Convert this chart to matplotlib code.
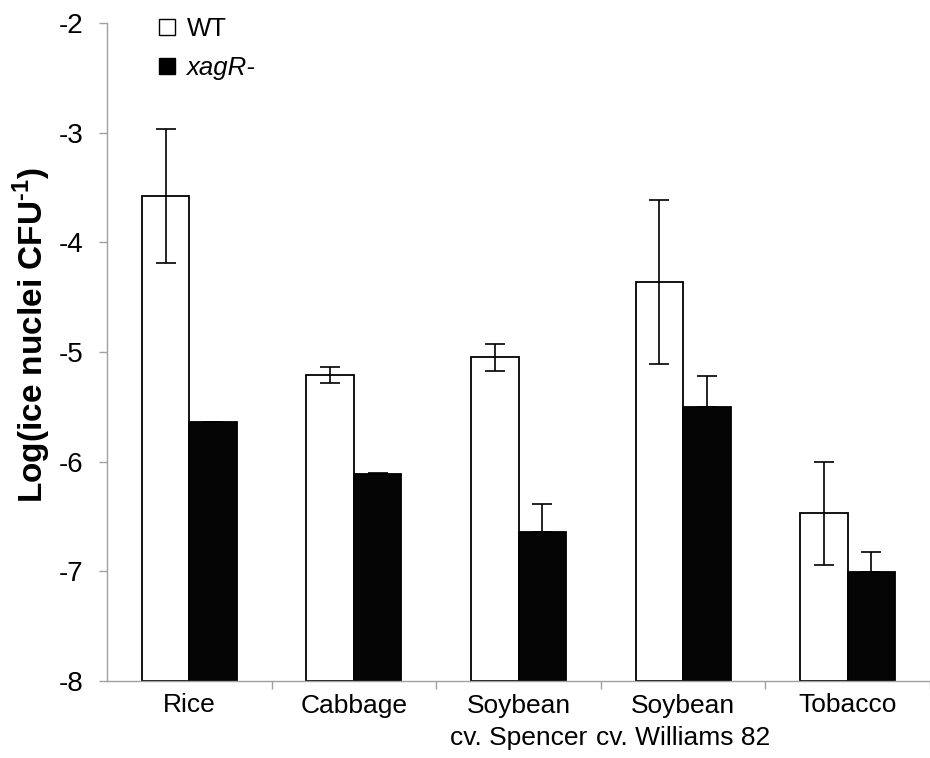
import matplotlib
matplotlib.use("Agg")
import matplotlib.pyplot as plt
import numpy as np
from matplotlib.lines import Line2D

categories = ["Rice", "Cabbage", "Soybean\ncv. Spencer", "Soybean\ncv. Williams 82", "Tobacco"]
wt_values = [-3.58, -5.21, -5.05, -4.36, -6.47]
wt_errors = [0.61, 0.07, 0.12, 0.75, 0.47]
xag_values = [-5.64, -6.11, -6.64, -5.50, -7.01]
xag_errors = [0.00, 0.01, 0.25, 0.28, 0.19]
yticks = [-8, -7, -6, -5, -4, -3, -2]

plt.rcParams['font.family'] = ['Liberation Sans', 'DejaVu Sans']
plt.rcParams['mathtext.fontset'] = 'custom'
plt.rcParams['mathtext.rm'] = 'Liberation Sans:bold'
plt.rcParams['mathtext.bf'] = 'Liberation Sans:bold'

fig = plt.figure(figsize=(9.30, 7.58), dpi=100)
ax = fig.add_axes([107/930, 1-681/758, 1-107/930, (681-23)/758])

x = np.arange(len(categories))
w = 0.288
base = -8
ax.bar(x - w/2, np.array(wt_values) - base, bottom=base, width=w, color="white",
       edgecolor="black", linewidth=1.3, zorder=2)
ax.bar(x + w/2, np.array(xag_values) - base, bottom=base, width=w, color="#050505",
       edgecolor="black", linewidth=1.3, zorder=2)
ax.errorbar(x - w/2, wt_values, yerr=wt_errors, fmt="none", ecolor="black",
            elinewidth=1.2, capsize=7, capthick=1.2, zorder=3)
ax.errorbar(x + w/2, xag_values, yerr=[np.zeros(len(xag_errors)), xag_errors], fmt="none",
            ecolor="black", elinewidth=1.2, capsize=7, capthick=1.2, zorder=3)

ax.set_ylim(-8, -2)
ax.set_xlim(-0.5, (930-107)/166.5 - 0.5)
ax.set_yticks(yticks)
ax.set_yticklabels([str(t) for t in yticks], fontsize=20)
ax.set_xticks(x)
ax.set_xticklabels(categories, fontsize=19, linespacing=1.45)
ax.set_xticks(np.arange(len(categories)) + 0.5, minor=True)
ax.tick_params(axis="x", which="major", length=0, pad=9)
ax.tick_params(axis="x", which="minor", length=6, color="#a0a0a0", width=1)
ax.tick_params(axis="y", length=6, color="#a0a0a0", width=1, pad=11)

for s in ["top", "right"]:
    ax.spines[s].set_visible(False)
for s in ["left", "bottom"]:
    ax.spines[s].set_color("#a0a0a0")
    ax.spines[s].set_linewidth(1)

ax.set_ylabel("Log(ice nuclei CFU$^{\\text{-1}}$)", fontsize=24, fontweight="bold")
ax.yaxis.set_label_coords(-0.066, 0.525)

handles = [Line2D([], [], marker="s", linestyle="none", markersize=11,
                  markerfacecolor="white", markeredgecolor="black", markeredgewidth=1),
           Line2D([], [], marker="s", linestyle="none", markersize=11,
                  markerfacecolor="black", markeredgecolor="black")]
leg = fig.legend(handles, ["WT", "xagR-"], loc="upper left",
                 bbox_to_anchor=(144/930, 1-4/758), frameon=False, fontsize=18.5,
                 handlelength=0.8, handletextpad=0.35, labelspacing=0.6, borderpad=0)
leg.get_texts()[1].set_fontstyle("italic")

fig.savefig("out.png", dpi=100)
